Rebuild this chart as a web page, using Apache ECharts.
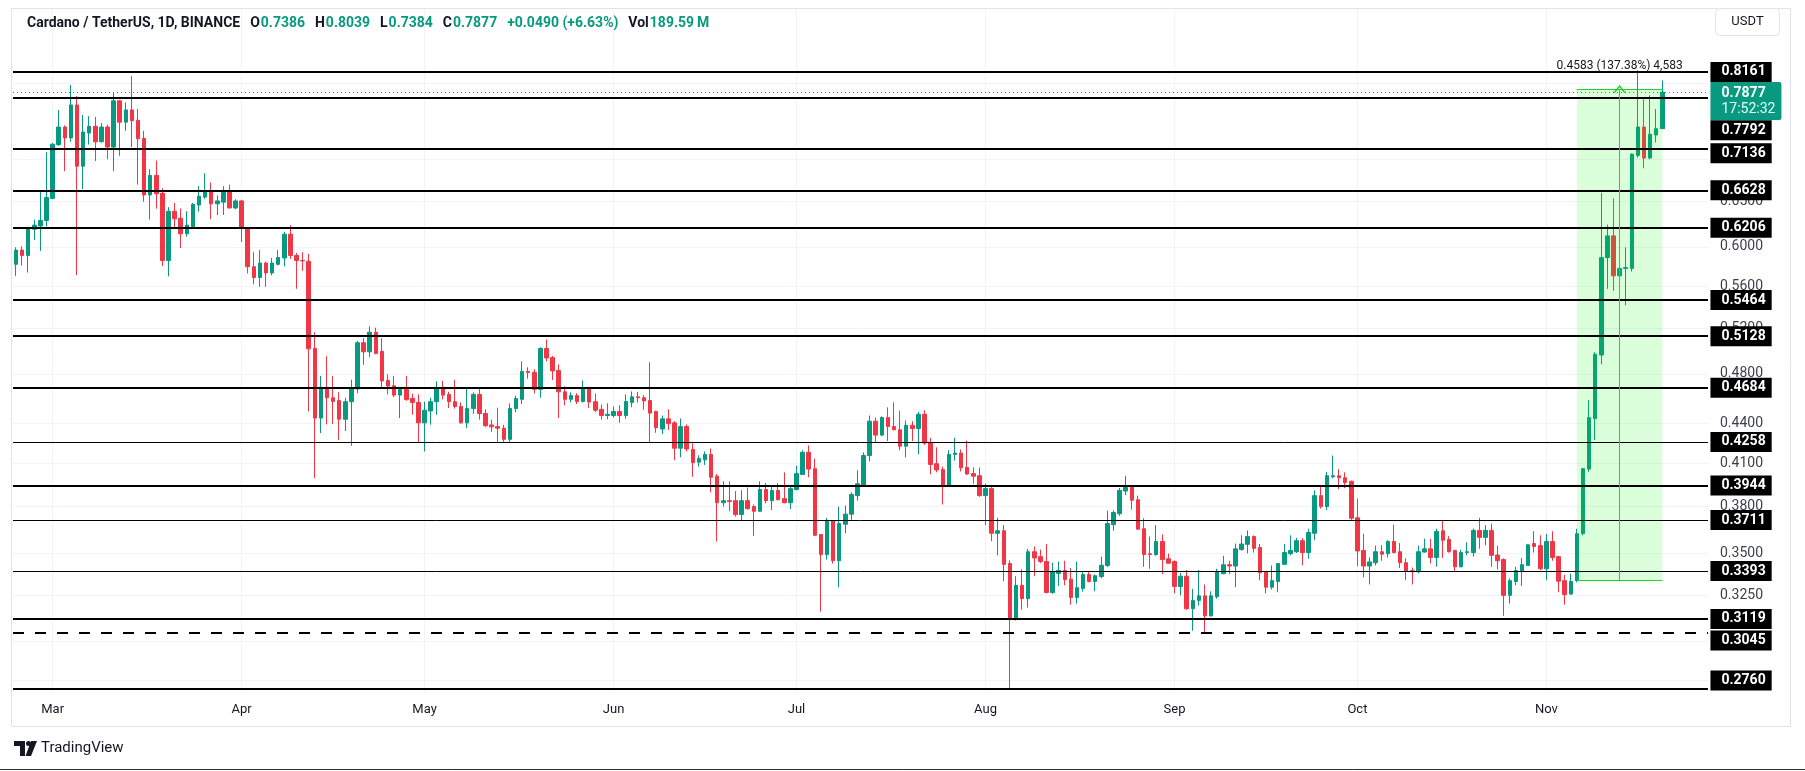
<!DOCTYPE html>
<html>
<head>
<meta charset="utf-8">
<script src="https://cdn.jsdelivr.net/npm/echarts@6/dist/echarts.min.js"></script>
<style>
html,body{margin:0;padding:0;background:#ffffff;}
#chart{width:1805px;height:771px;}
</style>
</head>
<body>
<div id="chart"></div>
<script>
// ---------- data ----------
const firstDay = '2024-02-24';      // first candle
const categoryCount = 278;          // candles + empty days to the right
const monthNames = ['Jan','Feb','Mar','Apr','May','Jun','Jul','Aug','Sep','Oct','Nov','Dec'];

// daily candles [open, close, low, high]
const candles = [
[0.5819,0.5966,0.5702,0.5996],[0.5966,0.5910,0.5806,0.6005],[0.5910,0.6207,0.5735,0.6216],[0.6189,0.6234,0.6072,0.6295],
[0.6225,0.6285,0.5957,0.6607],[0.6285,0.6544,0.6221,0.7088],[0.6534,0.7187,0.6525,0.7202],[0.7182,0.7407,0.7166,0.7634],
[0.7407,0.7267,0.6854,0.7428],[0.7267,0.7701,0.7218,0.7976],[0.7701,0.6914,0.5710,0.7820],[0.6914,0.7342,0.6641,0.7568],
[0.7331,0.7417,0.7182,0.7551],[0.7417,0.7218,0.6979,0.7540],[0.7218,0.7407,0.7208,0.7460],[0.7407,0.7151,0.7000,0.7439],
[0.7151,0.7757,0.6854,0.7878],[0.7757,0.7471,0.7042,0.7769],[0.7471,0.7634,0.7358,0.7735],[0.7634,0.7490,0.7151,0.8106],
[0.7496,0.7256,0.6694,0.7646],[0.7261,0.6573,0.6495,0.7358],[0.6573,0.6804,0.6295,0.6879],[0.6804,0.6588,0.6416,0.6984],
[0.6592,0.5858,0.5802,0.6650],[0.5858,0.6388,0.5697,0.6434],[0.6388,0.6304,0.6198,0.6481],[0.6309,0.6140,0.5988,0.6420],
[0.6140,0.6234,0.6108,0.6388],[0.6216,0.6467,0.6207,0.6481],[0.6458,0.6559,0.6383,0.6675],[0.6549,0.6621,0.6525,0.6829],
[0.6621,0.6472,0.6300,0.6718],[0.6472,0.6505,0.6346,0.6568],[0.6491,0.6621,0.6346,0.6675],[0.6621,0.6425,0.6420,0.6694],
[0.6425,0.6505,0.6411,0.6525],[0.6505,0.6207,0.6050,0.6515],[0.6207,0.5794,0.5727,0.6212],[0.5794,0.5685,0.5618,0.5944],
[0.5685,0.5832,0.5593,0.5966],[0.5832,0.5731,0.5593,0.5845],[0.5731,0.5832,0.5706,0.5884],[0.5819,0.5888,0.5806,0.5966],
[0.5884,0.6135,0.5798,0.6162],[0.6135,0.5910,0.5875,0.6234],[0.5910,0.5858,0.5573,0.5936],[0.5858,0.5854,0.5752,0.5944],
[0.5850,0.5015,0.4493,0.5927],[0.5018,0.4440,0.3995,0.5164],[0.4440,0.4677,0.4324,0.4782],[0.4677,0.4602,0.4391,0.4950],
[0.4602,0.4572,0.4395,0.4782],[0.4579,0.4431,0.4271,0.4646],[0.4431,0.4570,0.4340,0.4602],[0.4570,0.4677,0.4229,0.4750],
[0.4673,0.5069,0.4639,0.5085],[0.5069,0.4989,0.4876,0.5112],[0.4989,0.5164,0.4942,0.5217],[0.5164,0.4975,0.4968,0.5205],
[0.4993,0.4740,0.4683,0.5109],[0.4743,0.4697,0.4629,0.4796],[0.4700,0.4623,0.4606,0.4782],[0.4623,0.4670,0.4440,0.4690],
[0.4670,0.4586,0.4579,0.4782],[0.4596,0.4564,0.4466,0.4636],[0.4564,0.4403,0.4256,0.4629],[0.4403,0.4502,0.4187,0.4570],
[0.4496,0.4570,0.4388,0.4602],[0.4570,0.4677,0.4466,0.4737],[0.4677,0.4623,0.4589,0.4740],[0.4629,0.4570,0.4519,0.4650],
[0.4570,0.4532,0.4515,0.4750],[0.4532,0.4403,0.4398,0.4564],[0.4403,0.4515,0.4362,0.4683],[0.4515,0.4629,0.4473,0.4646],
[0.4629,0.4476,0.4428,0.4687],[0.4476,0.4381,0.4372,0.4509],[0.4387,0.4372,0.4334,0.4428],[0.4374,0.4362,0.4256,0.4522],
[0.4362,0.4277,0.4256,0.4388],[0.4277,0.4515,0.4256,0.4557],[0.4515,0.4596,0.4486,0.4619],[0.4589,0.4820,0.4551,0.4906],
[0.4820,0.4810,0.4758,0.4855],[0.4813,0.4670,0.4636,0.4838],[0.4670,0.5018,0.4602,0.5029],[0.5018,0.4935,0.4906,0.5098],
[0.4938,0.4824,0.4747,0.4953],[0.4827,0.4650,0.4440,0.4880],[0.4650,0.4589,0.4541,0.4693],[0.4589,0.4619,0.4564,0.4646],
[0.4619,0.4572,0.4551,0.4639],[0.4572,0.4680,0.4564,0.4744],[0.4680,0.4567,0.4519,0.4690],[0.4570,0.4502,0.4486,0.4636],
[0.4509,0.4460,0.4428,0.4548],[0.4460,0.4470,0.4431,0.4557],[0.4460,0.4492,0.4444,0.4532],[0.4492,0.4460,0.4403,0.4541],
[0.4460,0.4572,0.4434,0.4629],[0.4564,0.4609,0.4525,0.4653],[0.4609,0.4602,0.4564,0.4650],[0.4602,0.4576,0.4505,0.4623],
[0.4579,0.4479,0.4250,0.4898],[0.4492,0.4365,0.4327,0.4499],[0.4356,0.4434,0.4318,0.4460],[0.4434,0.4397,0.4349,0.4509],
[0.4403,0.4211,0.4123,0.4416],[0.4211,0.4374,0.4144,0.4437],[0.4374,0.4205,0.4187,0.4391],[0.4202,0.4106,0.4004,0.4247],
[0.4109,0.4135,0.4077,0.4159],[0.4126,0.4165,0.4089,0.4187],[0.4165,0.4001,0.3896,0.4208],[0.4009,0.3826,0.3574,0.4024],
[0.3826,0.3840,0.3800,0.3973],[0.3840,0.3834,0.3769,0.3973],[0.3840,0.3747,0.3734,0.3905],[0.3747,0.3840,0.3709,0.3911],
[0.3840,0.3786,0.3780,0.3930],[0.3800,0.3769,0.3608,0.3814],[0.3769,0.3916,0.3765,0.3973],[0.3916,0.3840,0.3821,0.3961],
[0.3840,0.3910,0.3777,0.3939],[0.3910,0.3846,0.3843,0.3961],[0.3854,0.3826,0.3823,0.4036],[0.3826,0.3922,0.3783,0.3939],
[0.3916,0.4027,0.3910,0.4085],[0.4021,0.4181,0.4018,0.4196],[0.4181,0.4059,0.4001,0.4232],[0.4062,0.3613,0.3608,0.4135],
[0.3618,0.3493,0.3159,0.3621],[0.3493,0.3705,0.3462,0.3726],[0.3705,0.3455,0.3438,0.3711],[0.3455,0.3689,0.3298,0.3800],
[0.3684,0.3750,0.3626,0.3807],[0.3750,0.3882,0.3712,0.3896],[0.3874,0.3956,0.3840,0.4050],[0.3947,0.4157,0.3933,0.4181],
[0.4157,0.4416,0.4114,0.4460],[0.4416,0.4309,0.4253,0.4444],[0.4309,0.4444,0.4302,0.4454],[0.4444,0.4374,0.4265,0.4525],
[0.4374,0.4350,0.4347,0.4564],[0.4350,0.4226,0.4196,0.4499],[0.4226,0.4384,0.4144,0.4422],[0.4384,0.4359,0.4265,0.4416],
[0.4359,0.4470,0.4165,0.4489],[0.4470,0.4250,0.4235,0.4502],[0.4250,0.4092,0.4021,0.4290],[0.4098,0.4053,0.4036,0.4217],
[0.4056,0.3947,0.3814,0.4077],[0.3947,0.4165,0.3944,0.4196],[0.4165,0.4175,0.4120,0.4290],[0.4175,0.4068,0.4042,0.4202],
[0.4071,0.4024,0.4018,0.4268],[0.4027,0.4009,0.3956,0.4071],[0.4012,0.3874,0.3866,0.4071],[0.3874,0.3922,0.3678,0.3956],
[0.3922,0.3626,0.3576,0.3933],[0.3626,0.3642,0.3488,0.3726],[0.3642,0.3433,0.3333,0.3678],[0.3438,0.3118,0.2760,0.3457],
[0.3118,0.3309,0.3110,0.3362],[0.3309,0.3232,0.3170,0.3404],[0.3232,0.3510,0.3182,0.3528],[0.3510,0.3472,0.3362,0.3543],
[0.3480,0.3450,0.3440,0.3523],[0.3450,0.3267,0.3262,0.3558],[0.3267,0.3389,0.3260,0.3443],[0.3379,0.3396,0.3305,0.3450],
[0.3396,0.3343,0.3309,0.3455],[0.3345,0.3239,0.3198,0.3411],[0.3239,0.3295,0.3204,0.3450],[0.3291,0.3372,0.3272,0.3387],
[0.3372,0.3331,0.3326,0.3394],[0.3331,0.3365,0.3274,0.3372],[0.3360,0.3428,0.3350,0.3480],[0.3426,0.3689,0.3418,0.3772],
[0.3681,0.3761,0.3642,0.3775],[0.3753,0.3910,0.3739,0.3927],[0.3905,0.3930,0.3877,0.4012],[0.3930,0.3843,0.3780,0.3942],
[0.3846,0.3652,0.3650,0.3874],[0.3655,0.3493,0.3418,0.3723],[0.3498,0.3493,0.3406,0.3605],[0.3493,0.3574,0.3485,0.3678],
[0.3574,0.3462,0.3375,0.3618],[0.3467,0.3440,0.3438,0.3498],[0.3450,0.3302,0.3262,0.3457],[0.3302,0.3362,0.3251,0.3382],
[0.3362,0.3175,0.3170,0.3399],[0.3175,0.3222,0.3055,0.3288],[0.3222,0.3248,0.3193,0.3399],[0.3248,0.3136,0.3045,0.3314],
[0.3136,0.3248,0.3132,0.3274],[0.3243,0.3387,0.3232,0.3406],[0.3377,0.3431,0.3374,0.3485],[0.3431,0.3423,0.3374,0.3455],
[0.3423,0.3528,0.3298,0.3561],[0.3523,0.3558,0.3518,0.3613],[0.3556,0.3605,0.3500,0.3644],[0.3605,0.3531,0.3505,0.3613],
[0.3536,0.3382,0.3338,0.3558],[0.3387,0.3298,0.3262,0.3387],[0.3298,0.3336,0.3284,0.3426],[0.3331,0.3438,0.3269,0.3438],
[0.3433,0.3505,0.3433,0.3558],[0.3498,0.3518,0.3488,0.3613],[0.3510,0.3579,0.3502,0.3597],[0.3579,0.3505,0.3428,0.3595],
[0.3505,0.3631,0.3467,0.3655],[0.3626,0.3874,0.3582,0.3910],[0.3874,0.3800,0.3786,0.3939],[0.3800,0.4012,0.3777,0.4039],
[0.4004,0.4012,0.3995,0.4157],[0.4012,0.3998,0.3919,0.4059],[0.3998,0.3964,0.3925,0.4036],[0.3973,0.3723,0.3712,0.3978],
[0.3726,0.3515,0.3421,0.3854],[0.3518,0.3423,0.3355,0.3623],[0.3423,0.3448,0.3314,0.3475],[0.3443,0.3510,0.3426,0.3548],
[0.3510,0.3495,0.3455,0.3551],[0.3498,0.3574,0.3475,0.3582],[0.3574,0.3505,0.3500,0.3681],[0.3510,0.3443,0.3411,0.3564],
[0.3443,0.3394,0.3338,0.3470],[0.3396,0.3389,0.3314,0.3414],[0.3389,0.3510,0.3379,0.3548],[0.3508,0.3528,0.3505,0.3592],
[0.3528,0.3475,0.3438,0.3589],[0.3475,0.3637,0.3418,0.3655],[0.3642,0.3582,0.3472,0.3705],[0.3587,0.3510,0.3505,0.3608],
[0.3518,0.3418,0.3389,0.3523],[0.3418,0.3505,0.3416,0.3523],[0.3505,0.3510,0.3488,0.3569],[0.3505,0.3644,0.3480,0.3657],
[0.3644,0.3600,0.3528,0.3726],[0.3600,0.3644,0.3551,0.3678],[0.3644,0.3488,0.3418,0.3689],[0.3490,0.3455,0.3402,0.3548],
[0.3462,0.3251,0.3136,0.3470],[0.3251,0.3336,0.3204,0.3350],[0.3331,0.3396,0.3309,0.3418],[0.3394,0.3431,0.3305,0.3472],
[0.3426,0.3553,0.3423,0.3556],[0.3561,0.3543,0.3505,0.3639],[0.3548,0.3406,0.3399,0.3613],[0.3406,0.3574,0.3338,0.3621],
[0.3574,0.3475,0.3455,0.3639],[0.3480,0.3333,0.3269,0.3485],[0.3336,0.3255,0.3198,0.3370],[0.3258,0.3331,0.3255,0.3377],
[0.3336,0.3623,0.3326,0.3655],[0.3623,0.4062,0.3613,0.4065],[0.4059,0.4444,0.4039,0.4583],[0.4437,0.4968,0.4271,0.4985],
[0.4961,0.5888,0.4880,0.6597],[0.5888,0.6117,0.5573,0.6239],[0.6117,0.5702,0.5553,0.6534],[0.5702,0.5777,0.5694,0.5786],
[0.5777,0.5786,0.5415,0.5996],[0.5777,0.7062,0.5744,0.7072],[0.7047,0.7407,0.7021,0.8185],[0.7407,0.7014,0.6889,0.7786],
[0.7014,0.7315,0.6999,0.7832],[0.7304,0.7386,0.7208,0.7646],[0.7386,0.7877,0.7384,0.8039]
];

// horizontal key levels drawn on the chart
const boldLevels   = [0.8161, 0.7792, 0.7136, 0.6628, 0.6206, 0.5464, 0.5128, 0.4684, 0.3944, 0.3119, 0.2760];
const thinLevels   = [0.4258, 0.3711, 0.3393];
const dashedLevels = [0.3045];
// price scale tick labels
const priceTicks = [0.28, 0.30, 0.325, 0.35, 0.38, 0.41, 0.44, 0.48, 0.52, 0.56, 0.60, 0.65, 0.70, 0.80];
// last price
const lastPrice = 0.7877;
const countdown = '17:52:32';
// price range tool
const rangeFrom = '2024-11-06', rangeTo = '2024-11-20', rangeMid = '2024-11-13';
const rangeLow = 0.3336, rangeHigh = 0.7919;
const rangeText = '0.4583 (137.38%) 4,583';
// header
const headerName = 'Cardano / TetherUS, 1D, BINANCE';
const headerO = '0.7386', headerH = '0.8039', headerL = '0.7384', headerC = '0.7877';
const headerChange = '+0.0490 (+6.63%)', headerVol = '189.59\u2009M';

// ---------- build ----------
const dates = [];
{
  const p = firstDay.split('-').map(Number);
  for (let i = 0; i < categoryCount; i++) {
    const d = new Date(Date.UTC(p[0], p[1] - 1, p[2] + i));
    dates.push(d.toISOString().slice(0, 10));
  }
}
const monthStarts = dates.filter(d => d.slice(8) === '01');
const lastCat = dates[dates.length - 1];
const FONT = 'Roboto, "Open Sans", "DejaVu Sans", sans-serif';
const UP = '#089981', DOWN = '#F23645', RANGE = '#1ed41e';

const levelLines = [];
boldLevels.forEach(v => levelLines.push({yAxis: v, lineStyle: {color: '#000', width: 2, type: 'solid'}}));
thinLevels.forEach(v => levelLines.push({yAxis: v, lineStyle: {color: '#000', width: 1, type: 'solid'}}));
dashedLevels.forEach(v => levelLines.push({yAxis: v, lineStyle: {color: '#000', width: 2, type: [11, 11]}}));

const labelShift = {'0.7792': 32, '0.7136': 5, '0.3045': 8, '0.2760': -8};
const allLevels = boldLevels.concat(thinLevels, dashedLevels);
const boxPoints = allLevels.map(v => ({
  coord: [lastCat, v],
  label: {
    show: true, position: 'right', distance: 5,
    offset: [0, labelShift[v.toFixed(4)] || 0],
    formatter: v.toFixed(4),
    backgroundColor: '#000', color: '#fff', padding: [3, 6, 3, 11],
    fontSize: 14, fontWeight: 'bold', lineHeight: 14, fontFamily: FONT
  }
}));
boxPoints.push({
  coord: [lastCat, lastPrice],
  label: {
    show: true, position: 'right', distance: 5, offset: [0, 9],
    formatter: '{a|' + lastPrice.toFixed(4) + '}\n{b|' + countdown + '}',
    backgroundColor: UP, padding: [3, 6, 3, 11], borderRadius: [0, 2, 2, 0],
    rich: {
      a: {color: '#fff', fontSize: 14, fontWeight: 'bold', lineHeight: 16, fontFamily: FONT},
      b: {color: '#e8fff7', fontSize: 14, lineHeight: 16, fontFamily: FONT}
    }
  }
});
boxPoints.push({
  coord: [rangeMid, rangeHigh],
  label: {
    show: true, position: 'top', distance: 17, formatter: rangeText,
    color: '#131722', fontSize: 12, fontFamily: FONT
  }
});

const chevron = 'path://M0,8 L6,0 L12,8 L10.6,9 L6,2.6 L1.4,9 Z';

const option = {
  animation: false,
  backgroundColor: '#ffffff',
  title: {
    left: 22, top: 11,
    text: '{n|' + headerName + '}  {k|O}{v|' + headerO + '}  {k|H}{v|' + headerH + '}  {k|L}{v|' + headerL +
          '}  {k|C}{v|' + headerC + '}  {c|' + headerChange + '}  {k|Vol}{v|' + headerVol + '}',
    textStyle: {
      fontSize: 14, fontFamily: FONT,
      rich: {
        n: {color: '#131722', fontSize: 14, fontFamily: FONT},
        k: {color: '#131722', fontSize: 14, fontFamily: FONT, padding: [0, 1, 0, 3]},
        v: {color: UP, fontSize: 14, fontFamily: FONT},
        c: {color: UP, fontSize: 14, fontFamily: FONT, padding: [0, 0, 0, 3]}
      }
    }
  },
  grid: {left: 13, right: 97, top: 10, bottom: 78, containLabel: false, outerBoundsMode: 'none'},
  xAxis: {
    type: 'category', data: dates, boundaryGap: true,
    axisLine: {show: false}, axisTick: {show: false}, splitLine: {show: false},
    axisLabel: {
      interval: (i, v) => v.slice(8) === '01',
      formatter: v => (v.slice(8) === '01' ? monthNames[+v.slice(5, 7) - 1] : ''),
      color: '#131722', fontSize: 13, fontFamily: FONT, margin: 10
    }
  },
  yAxis: {
    type: 'log', logBase: 10, min: 0.2738, max: 0.910, position: 'right',
    axisLine: {show: false}, axisTick: {show: false}, axisLabel: {show: false}, splitLine: {show: false}
  },
  series: [
    {
      name: 'grid', type: 'line', data: [], silent: true, z: 0,
      markLine: {
        silent: true, symbol: 'none', z: 1, animation: false, precision: 4,
        lineStyle: {color: '#f0f3fa', width: 1, type: 'solid'},
        label: {
          show: true, position: 'end', distance: 12, color: '#3b3f4b', fontSize: 14, fontFamily: FONT,
          formatter: p => Number(p.value).toFixed(4)
        },
        data: priceTicks.map(v => ({yAxis: v}))
          .concat(monthStarts.map(d => ({xAxis: d, label: {show: false}})))
      }
    },
    {
      name: 'ADA/USDT', type: 'candlestick', data: candles, z: 2, barWidth: 4,
      itemStyle: {color: UP, color0: DOWN, borderColor: UP, borderColor0: DOWN, borderWidth: 1},
      markArea: {
        silent: true, z: 4, precision: 4,
        itemStyle: {color: 'rgba(0,255,0,0.14)'},
        data: [[{coord: [rangeFrom, rangeHigh]}, {coord: [rangeTo, rangeLow]}]]
      },
      markLine: {
        silent: true, symbol: 'none', z: 5, animation: false, precision: 4, label: {show: false},
        data: levelLines.concat([
          {yAxis: lastPrice, lineStyle: {color: UP, width: 1, type: [1, 3]}},
          [{coord: [rangeFrom, rangeHigh], lineStyle: {color: RANGE, width: 1, type: 'solid'}},
           {coord: [rangeTo, rangeHigh], lineStyle: {color: RANGE, width: 1, type: 'solid'}}],
          [{coord: [rangeFrom, rangeLow], lineStyle: {color: RANGE, width: 1, type: 'solid'}},
           {coord: [rangeTo, rangeLow], lineStyle: {color: RANGE, width: 1, type: 'solid'}}],
          [{coord: [rangeMid, rangeLow], symbol: 'none', lineStyle: {color: RANGE, width: 1, type: 'solid'}},
           {coord: [rangeMid, rangeHigh], symbol: chevron, symbolSize: [12, 8], lineStyle: {color: RANGE, width: 1, type: 'solid'}}]
        ])
      },
      markPoint: {
        silent: true, z: 6, animation: false, precision: 4,
        symbol: 'rect', symbolSize: 1, itemStyle: {color: 'rgba(0,0,0,0)'},
        data: boxPoints
      }
    }
  ],
  graphic: [
    {type: 'rect', silent: true, z: -10, shape: {x: 11.5, y: 8.5, width: 1779, height: 718},
     style: {fill: 'none', stroke: '#e0e3eb', lineWidth: 1}},
    {type: 'line', silent: true, z: 10, shape: {x1: 0, y1: 769.5, x2: 1805, y2: 769.5},
     style: {stroke: '#2a2e39', lineWidth: 1}},
    {type: 'rect', silent: true, z: 10, shape: {x: 1715.5, y: 8.5, width: 64, height: 27, r: 4},
     style: {fill: '#ffffff', stroke: '#e0e3eb', lineWidth: 1}},
    {type: 'text', silent: true, z: 11, x: 1747.5, y: 22,
     style: {text: 'USDT', fill: '#131722', font: '13px ' + FONT, align: 'center', verticalAlign: 'middle'}},
    {type: 'polygon', silent: true, z: 10, shape: {points: [[14, 741], [25, 741], [25, 756], [20, 756], [20, 746], [14, 746]]},
     style: {fill: '#131722'}},
    {type: 'circle', silent: true, z: 10, shape: {cx: 28.5, cy: 743.5, r: 2.5}, style: {fill: '#131722'}},
    {type: 'polygon', silent: true, z: 10, shape: {points: [[31, 741], [37, 741], [31, 756], [25.5, 756]]},
     style: {fill: '#131722'}},
    {type: 'text', silent: true, z: 10, x: 41, y: 748.5,
     style: {text: 'TradingView', fill: '#131722', font: '15px ' + FONT, verticalAlign: 'middle'}}
  ]
};

const chart = echarts.init(document.getElementById('chart'), null, {renderer: 'canvas'});
chart.setOption(option);
</script>
</body>
</html>
